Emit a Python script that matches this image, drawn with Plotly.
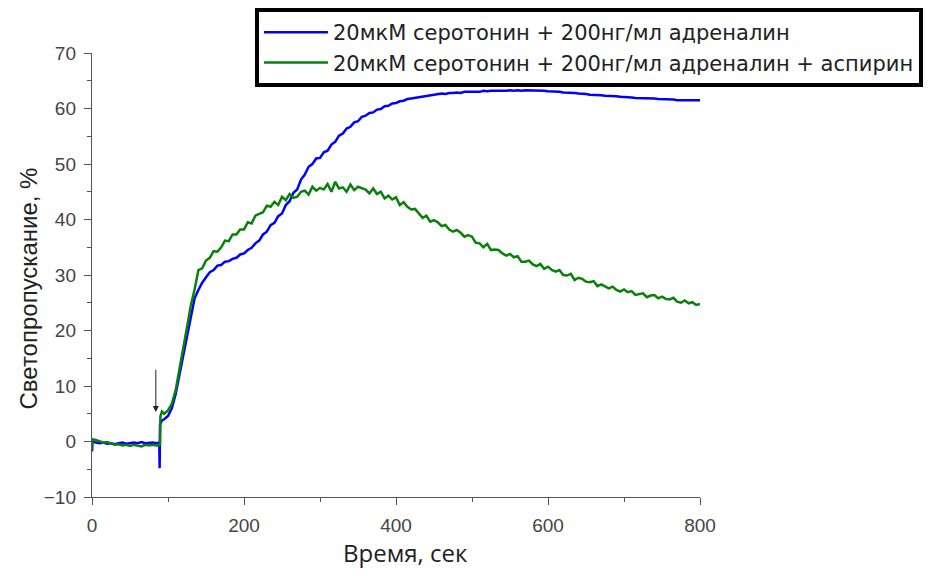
import plotly.graph_objects as go

# ---- data ----
blue_name = "20мкМ серотонин + 200нг/мл адреналин"
green_name = "20мкМ серотонин + 200нг/мл адреналин + аспирин"
x_title = "Время, сек"
y_title = "Светопропускание, %"

blue_time = [0, 0.5] + list(range(5, 90, 5)) + [88.5, 89, 89.5, 92] + list(range(95, 805, 5))
blue_vals = [
    -1.8, 0.0,
    -0.2, -0.3, -0.2, -0.4, -0.3, -0.5, -0.3, -0.2, -0.4, -0.3, -0.2, -0.3, -0.1, -0.3, -0.2, -0.2, -0.3,
    -0.2, -4.8, 3.0, 3.8,
    4.0,
    4.6, 6.0, 8.5, 12.0, 15.8, 19.5, 23.0, 25.8, 27.3, 28.6,
    29.6, 30.5, 30.9, 31.7, 31.8, 32.4, 32.5, 32.9, 33.1, 33.7,
    33.9, 34.5, 34.9, 35.7, 36.2, 37.3, 37.8, 39.0, 39.4, 40.6,
    41.1, 42.6, 43.3, 44.8, 45.4, 47.2, 48.1, 49.5, 50.0, 51.0,
    51.1, 52.1, 52.4, 53.5, 54.0, 55.1, 55.5, 56.4, 56.7, 57.5,
    57.7, 58.5, 58.7, 59.2, 59.3, 59.8, 59.9, 60.4, 60.5, 60.9,
    61.0, 61.3, 61.4, 61.7, 61.8, 61.9, 62.1, 62.1, 62.2, 62.4,
    62.4, 62.5, 62.7, 62.6, 62.8, 62.8, 62.9, 62.8, 63.0, 63.0,
    63.0, 63.1, 63.0, 63.2, 63.1, 63.2, 63.2, 63.1, 63.2, 63.2,
    63.3, 63.2, 63.3, 63.2, 63.3, 63.3, 63.2, 63.3, 63.2, 63.2,
    63.1, 63.1, 63.0, 63.0, 62.9, 62.9, 62.8, 62.8, 62.7, 62.7,
    62.6, 62.5, 62.5, 62.4, 62.4, 62.3, 62.3, 62.2, 62.2, 62.1,
    62.1, 62.0, 62.0, 61.9, 61.9, 61.9, 61.8, 61.8, 61.8, 61.7,
    61.7, 61.6, 61.6, 61.6, 61.5, 61.5, 61.5, 61.4, 61.5, 61.4,
    61.5,
]

green_time = [0, 0.5] + list(range(5, 90, 5)) + [89.5, 90, 92] + list(range(95, 805, 5))
green_vals = [
    -1.5, 0.4,
    0.3, 0.1, -0.2, -0.1, -0.4, -0.6, -0.5, -0.7, -0.6, -0.8, -0.6, -0.7, -0.9, -0.6, -0.7, -0.6, -0.7,
    -0.6, 4.5, 5.4,
    5.0,
    5.6, 6.8, 9.2, 12.8, 16.8, 20.6, 24.5, 27.4, 30.9, 31.2,
    32.6, 33.1, 34.3, 34.2, 35.0, 36.2, 36.1, 37.3, 37.3, 38.2,
    38.2, 39.5, 39.3, 40.7, 41.0, 41.3, 42.5, 42.3, 43.2, 42.6,
    44.1, 43.5, 44.6, 43.9, 44.1, 45.0, 45.2, 44.5, 45.9, 45.2,
    45.7, 45.4, 46.4, 45.0, 46.8, 45.6, 45.8, 45.0, 46.3, 45.3,
    45.9, 45.6, 45.4, 44.7, 45.6, 44.6, 45.0, 43.8, 44.3, 43.6,
    44.0, 42.6, 43.1, 42.3, 41.8, 41.9, 41.0, 40.3, 40.7, 39.6,
    39.9, 39.5, 38.8, 39.0, 38.2, 37.8, 38.1, 37.6, 36.9, 37.2,
    36.9, 35.8, 35.7, 35.0, 35.6, 34.5, 34.6, 34.5, 33.9, 33.5,
    33.8, 33.2, 33.4, 32.4, 32.4, 32.6, 31.9, 31.6, 32.0, 31.1,
    31.5, 30.9, 30.6, 30.9, 30.0, 29.9, 30.2, 29.1, 29.5, 29.3,
    28.8, 28.7, 28.9, 28.0, 28.3, 27.9, 27.6, 27.9, 27.3, 27.0,
    27.4, 26.9, 27.1, 26.4, 26.6, 26.7, 26.0, 26.3, 26.4, 25.8,
    26.1, 25.7, 25.6, 25.9, 25.2, 25.0, 25.4, 24.9, 25.1, 24.6,
    24.8,
]

x_ticks = [0, 200, 400, 600, 800]
y_ticks = [-10, 0, 10, 20, 30, 40, 50, 60, 70]
arrow_x = 84
arrow_from, arrow_to = 13.2, 5.3

n_b = min(len(blue_time), len(blue_vals))
n_g = min(len(green_time), len(green_vals))

fig = go.Figure()
fig.add_trace(go.Scatter(x=blue_time[:n_b], y=blue_vals[:n_b], mode="lines", name=blue_name,
                         line=dict(color="#0000ff", width=2.5)))
fig.add_trace(go.Scatter(x=green_time[:n_g], y=green_vals[:n_g], mode="lines", name=green_name,
                         line=dict(color="#098009", width=2.5)))

fig.add_annotation(x=arrow_x, y=arrow_to, ax=arrow_x, ay=arrow_from, axref="x", ayref="y",
                   xref="x", yref="y", text="", showarrow=True, arrowhead=2, arrowsize=1.2,
                   arrowwidth=1, arrowcolor="#222")

# axis titles as annotations
fig.add_annotation(text=x_title, xref="paper", yref="paper", x=0.515, y=-0.126,
                   xanchor="center", yanchor="middle", showarrow=False,
                   font=dict(family="Open Sans", size=24, color="#222"))
fig.add_annotation(text=y_title, xref="paper", yref="paper", x=-0.105, y=0.47, textangle=-90,
                   xanchor="center", yanchor="middle", showarrow=False,
                   font=dict(family="Liberation Sans, Arial", size=24, color="#222"))

axis_common = dict(showgrid=False, zeroline=False, showline=True, linecolor="#555", linewidth=1.4,
                   ticks="outside", ticklen=7, tickwidth=1.4, tickcolor="#555", automargin=False,
                   ticklabelstandoff=4,
                   tickfont=dict(family="Liberation Sans, Arial", size=19, color="#444"))

fig.update_layout(
    width=939, height=576,
    margin=dict(l=84, r=247, t=45, b=87, autoexpand=False),
    paper_bgcolor="white", plot_bgcolor="white",
    xaxis=dict(range=[0, 800], tickvals=x_ticks,
               minor=dict(ticks="outside", ticklen=4, tickcolor="#555", dtick=100, tick0=0),
               **axis_common),
    yaxis=dict(range=[-10, 70], tickvals=y_ticks,
               minor=dict(ticks="outside", ticklen=4, tickcolor="#555", dtick=5, tick0=0),
               **axis_common),
    legend=dict(x=0.263, y=1.0, xref="container", yref="container", xanchor="left", yanchor="top",
                bordercolor="black", borderwidth=4, itemwidth=64,
                bgcolor="white", font=dict(family="DejaVu Sans", size=21, color="#222"),
                tracegroupgap=0),
    showlegend=True,
)

fig.write_html("out.html")
